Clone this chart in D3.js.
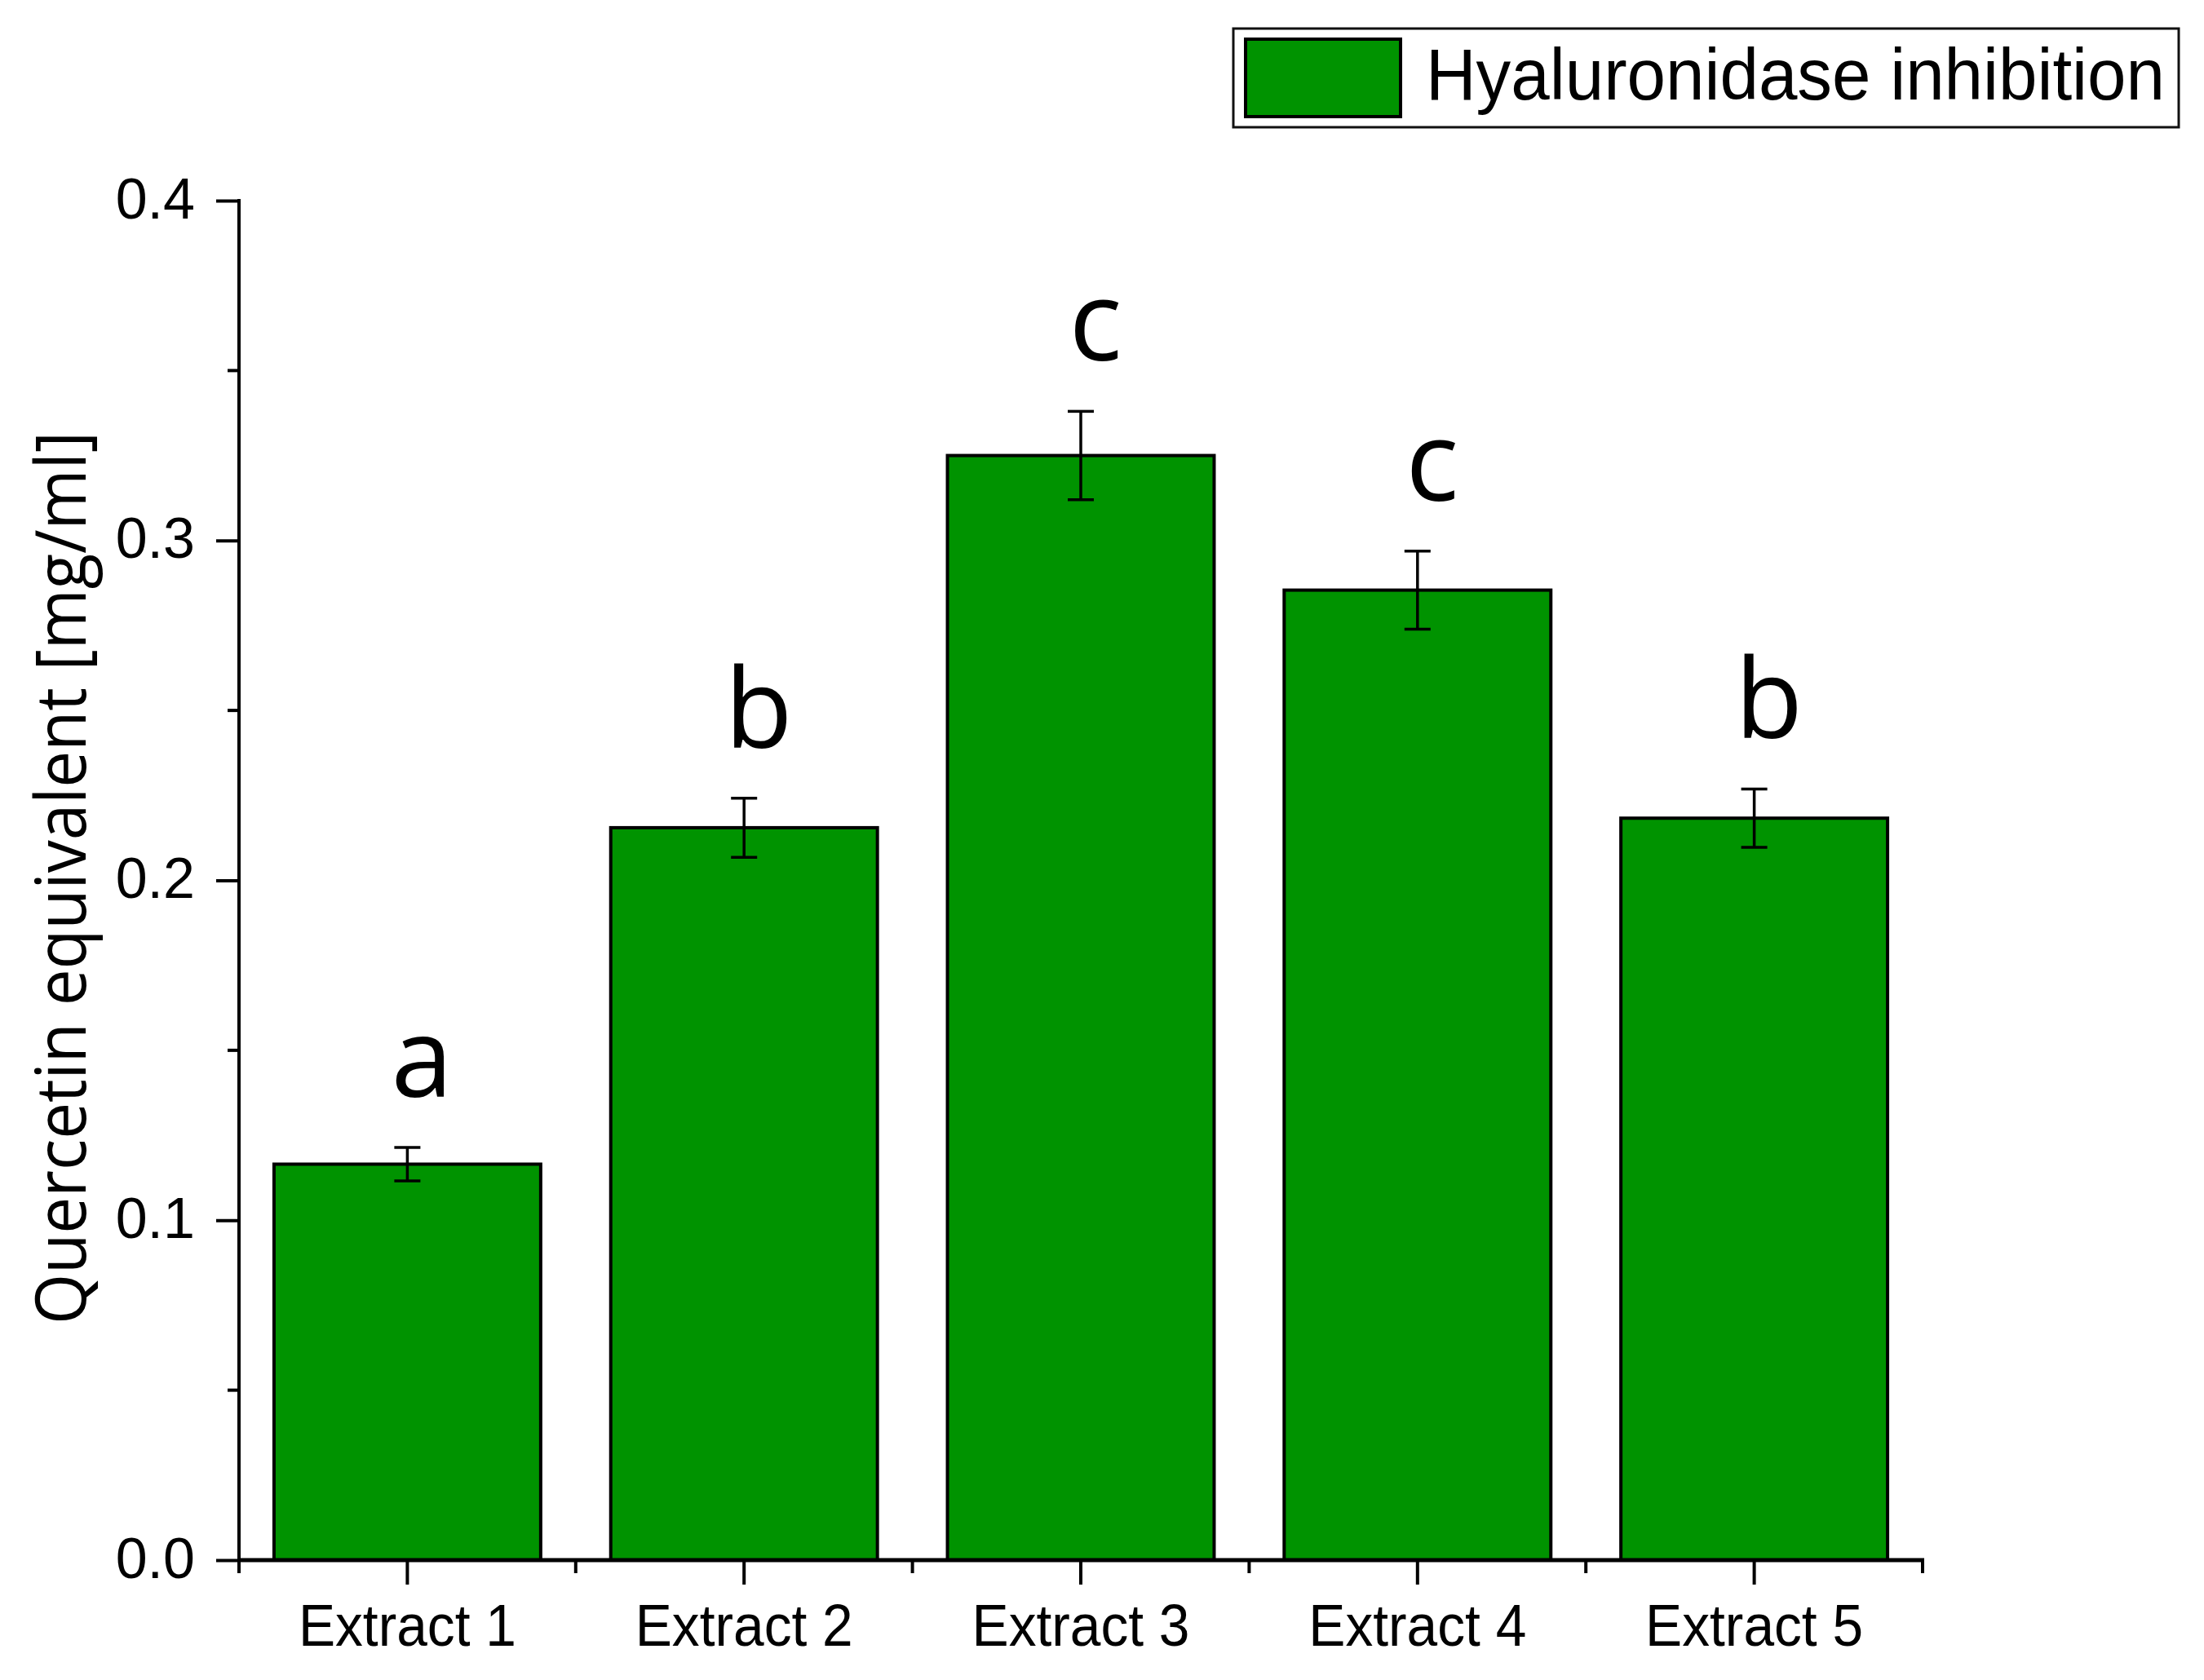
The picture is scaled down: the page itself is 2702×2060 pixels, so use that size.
<!DOCTYPE html>
<html>
<head>
<meta charset="utf-8">
<script src="https://cdn.jsdelivr.net/npm/d3@7/dist/d3.min.js"></script>
<style>
  html, body { margin: 0; padding: 0; background: #ffffff; }
  svg { display: block; }
</style>
</head>
<body>
<svg id="chart" width="2702" height="2060"></svg>
<script>
// ---- data ----
const categories = ["Extract 1", "Extract 2", "Extract 3", "Extract 4", "Extract 5"];
const values = [0.1165, 0.2155, 0.3250, 0.2854, 0.2183];
const errors = [0.0049, 0.0087, 0.0130, 0.0115, 0.0086];
const letters = ["a", "b", "c", "c", "b"];
const yTicks = [0.0, 0.1, 0.2, 0.3, 0.4];
const yMinorTicks = [0.05, 0.15, 0.25, 0.35];
const seriesName = "Hyaluronidase inhibition";
const yTitle = "Quercetin equivalent [mg/ml]";

// ---- layout ----
const W = 2702, H = 2060;
const x0 = 293, x1 = 2357, yTop = 246, yBot = 1913;
const green = "#009300";

const svg = d3.select("#chart");
svg.append("rect").attr("width", W).attr("height", H).attr("fill", "#fff");

const x = d3.scaleBand().domain(categories).range([x0, x1])
  .paddingInner(0.208).paddingOuter(0.104);
const y = d3.scaleLinear().domain([0, 0.4]).range([yBot, yTop]);
const step = x.step();

// bars
svg.append("g").selectAll("rect").data(categories).join("rect")
  .attr("x", d => x(d))
  .attr("y", (d, i) => y(values[i]))
  .attr("width", x.bandwidth())
  .attr("height", (d, i) => y(0) - y(values[i]))
  .attr("fill", green)
  .attr("stroke", "#000")
  .attr("stroke-width", 4);

// error bars
const eg = svg.append("g").attr("stroke", "#000").attr("stroke-width", 3.5);
categories.forEach((c, i) => {
  const cx = x(c) + x.bandwidth() / 2;
  const hi = y(values[i] + errors[i]), lo = y(values[i] - errors[i]);
  eg.append("line").attr("x1", cx).attr("x2", cx).attr("y1", hi).attr("y2", lo);
  eg.append("line").attr("x1", cx - 16).attr("x2", cx + 16).attr("y1", hi).attr("y2", hi);
  eg.append("line").attr("x1", cx - 16).attr("x2", cx + 16).attr("y1", lo).attr("y2", lo);
});

// significance letters
svg.append("g").selectAll("text").data(categories).join("text")
  .attr("x", d => x(d) + x.bandwidth() / 2 + 18)
  .attr("y", (d, i) => y(values[i] + errors[i]) - 62)
  .attr("text-anchor", "middle")
  .attr("font-family", "'Open Sans', sans-serif")
  .attr("font-size", 136)
  .attr("fill", "#000")
  .text((d, i) => letters[i]);

// y axis
const yAxis = d3.axisLeft(y).tickValues(yTicks).tickSize(28).tickPadding(26)
  .tickFormat(d3.format(".1f"));
const gy = svg.append("g").attr("transform", `translate(${x0},0)`).call(yAxis);
gy.select(".domain").remove();
gy.selectAll(".tick line").attr("stroke", "#000").attr("stroke-width", 4);
gy.selectAll(".tick text")
  .attr("font-family", "'Liberation Sans', Arial, sans-serif")
  .attr("font-size", 70).attr("fill", "#000").attr("dy", "0.30em");
svg.append("line").attr("x1", x0).attr("x2", x0).attr("y1", yTop - 2).attr("y2", yBot)
  .attr("stroke", "#000").attr("stroke-width", 4);
svg.append("g").selectAll("line").data(yMinorTicks).join("line")
  .attr("x1", x0 - 14).attr("x2", x0).attr("y1", d => y(d)).attr("y2", d => y(d))
  .attr("stroke", "#000").attr("stroke-width", 4);

// x axis
const xAxis = d3.axisBottom(x).tickSize(30).tickPadding(24);
const gx = svg.append("g").attr("transform", `translate(0,${yBot})`).call(xAxis);
gx.select(".domain").remove();
gx.selectAll(".tick line").attr("stroke", "#000").attr("stroke-width", 4);
gx.selectAll(".tick text")
  .attr("font-family", "'Liberation Sans', Arial, sans-serif")
  .attr("font-size", 72).attr("fill", "#000")
  .attr("textLength", 267).attr("lengthAdjust", "spacingAndGlyphs");
svg.append("line").attr("x1", x0 - 2).attr("x2", x1 + 2).attr("y1", yBot).attr("y2", yBot)
  .attr("stroke", "#000").attr("stroke-width", 5);
const bounds = d3.range(categories.length + 1).map(i => x0 + i * step);
svg.append("g").selectAll("line").data(bounds).join("line")
  .attr("x1", d => d).attr("x2", d => d).attr("y1", yBot).attr("y2", yBot + 16)
  .attr("stroke", "#000").attr("stroke-width", 4);

// y title
svg.append("text")
  .attr("transform", `translate(105,${(yTop + yBot) / 2 - 3}) rotate(-90)`)
  .attr("text-anchor", "middle")
  .attr("font-family", "'Open Sans', sans-serif")
  .attr("font-size", 86).attr("fill", "#000")
  .attr("textLength", 1095).attr("lengthAdjust", "spacingAndGlyphs")
  .text(yTitle);

// legend
const lg = svg.append("g");
lg.append("rect").attr("x", 1512).attr("y", 35).attr("width", 1159).attr("height", 121)
  .attr("fill", "#fff").attr("stroke", "#111").attr("stroke-width", 3);
lg.append("rect").attr("x", 1527).attr("y", 48).attr("width", 190).attr("height", 95)
  .attr("fill", green).attr("stroke", "#000").attr("stroke-width", 4);
lg.append("text").attr("x", 1748).attr("y", 122)
  .attr("font-family", "'Liberation Sans', Arial, sans-serif")
  .attr("font-size", 89).attr("fill", "#000")
  .attr("textLength", 906).attr("lengthAdjust", "spacingAndGlyphs")
  .text(seriesName);
</script>
</body>
</html>
